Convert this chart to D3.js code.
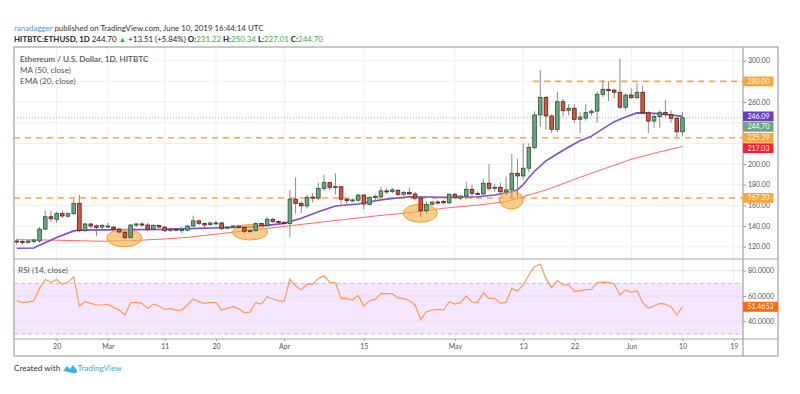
<!DOCTYPE html>
<html>
<head>
<meta charset="utf-8">
<script src="https://cdnjs.cloudflare.com/ajax/libs/d3/7.8.5/d3.min.js"></script>
<style>
  html, body { margin: 0; padding: 0; background: #fff; }
  svg { display: block; font-family: Lato, "Open Sans", sans-serif; }
</style>
</head>
<body>
<svg id="chart" width="800" height="394"></svg>
<script>
"use strict";

// daily candles, HITBTC ETH/USD, one per day from Feb 13 2019 to Jun 10 2019
var firstDay = new Date(Date.UTC(2019, 1, 13));

var open = [
    125.5, 125, 124, 125, 125.5, 137, 149, 146.5, 152, 149.5, 152, 162, 135.5, 142, 140.2, 139,
    139.5, 139, 137, 134, 129, 141, 142, 141, 137, 140.5, 139, 135.8, 137, 136, 136, 140, 145, 142.5, 141.5, 142.5, 143, 138, 139, 140, 138.5, 135, 135.5, 142.5, 140.5, 146.5, 144.5,
    143.5, 142.5, 166, 162, 159.5, 168, 167, 176.5, 182, 177.5, 178, 166, 164.7, 165, 170, 161, 168, 168.5, 174, 173.5, 174.5, 170.7, 172.6, 171, 167, 154.8, 161, 163.2, 163.8, 162.5,
    170.7, 167, 169, 175.5, 171.6, 171, 181.4, 176.5, 177.5, 173, 175, 191, 188.5, 196, 216, 247.5, 264.5, 246.5, 233.6, 260.3, 252, 254, 243.3, 244.5, 249.7, 251.2, 267.5, 272.3, 271.5, 269.5, 255,
    266.8, 264.2, 269.4, 249.7, 241.6, 245.8, 250, 248, 244.3, 231.22
];
var high = [
    128, 126.5, 127, 127.5, 139, 155, 155, 154, 155, 153, 166, 170, 143, 143, 141.5, 142,
    143, 140, 138, 135, 142, 143, 144, 143, 142, 141.5, 140, 138.5, 138, 139, 141, 150, 146, 143, 144, 145, 144, 140, 141, 141, 139, 137, 143.5, 143, 149, 148, 145.5,
    145, 175, 187, 164, 170, 172, 182, 189.5, 183, 191, 179, 167, 166.5, 171, 171, 168.5, 171, 178, 176.5, 177, 176, 174, 177, 173, 168, 164, 164, 165, 165, 171.5,
    172, 170, 183, 180, 173.5, 186, 200, 181, 182, 188, 210, 205, 220, 220, 251, 291, 266, 248, 270, 263, 258, 258, 250, 258, 253, 270, 281, 280, 273, 302, 268,
    273, 278, 276, 251, 249, 252, 262, 252, 246, 250.34
];
var low = [
    122, 122, 123, 123.5, 124, 136, 144, 143, 148, 148, 151, 134, 134, 138, 130, 137,
    138, 136, 133, 127, 128, 139, 139, 135, 136, 137.5, 134.5, 134, 135, 133, 135, 139.5, 141, 139, 140, 141, 136, 137, 138, 137.5, 133, 134, 135, 139.5, 139, 143, 142.5,
    141.5, 129, 152, 152.5, 157, 163, 165, 174, 175, 170.5, 161, 161, 163, 163, 156, 160, 165, 167, 171, 172, 169, 169, 170, 165, 148.5, 152, 160, 161, 161, 161,
    166, 165, 167, 166, 170, 170, 174, 173, 171, 170, 168, 168, 185, 192, 214, 236, 233, 230, 231, 246, 247, 240, 230, 242, 247, 240, 265, 261, 264, 253, 252,
    263, 263, 248, 230, 235, 235, 245, 240, 226, 227.01
];
var close = [
    124.8, 124, 125.5, 126.5, 137, 149, 147, 152, 149.7, 152, 162, 135.5, 142, 140, 138.7, 140.5,
    140, 137, 134.2, 129, 141, 142, 141, 137, 140.5, 139, 135.5, 137, 136, 136.5, 140, 145, 142.6, 141, 143, 143, 137.8, 139, 140, 138.5, 135, 135.5, 142.5, 140.5, 146.5, 144.5, 143.5,
    142.5, 166, 162, 159.5, 167.8, 167, 176.5, 182, 177.5, 178.2, 166, 164.7, 165.3, 170, 161.3, 167.8, 168.5, 174, 173.5, 175, 170.7, 172.6, 171, 167, 154.8, 161, 163.2, 163, 162.5, 170.7,
    167.8, 169, 175.5, 171.6, 171, 181.4, 176.5, 177.5, 173.2, 175, 191, 188.5, 196, 216, 247.5, 264.5, 246.5, 233.6, 260.3, 251.6, 254, 243.3, 245.5, 249.7, 251.2, 267.5, 272.3, 271, 269.5, 255, 266.8,
    264.2, 269.4, 249.7, 241.6, 246, 250, 248, 244.3, 231.22, 244.70
];

// indicator lines at these dates
var emaDates = ["2019-02-13", "2019-02-16", "2019-02-17", "2019-02-20", "2019-02-23", "2019-02-24", "2019-03-01", "2019-03-05",
    "2019-03-11", "2019-03-15", "2019-03-21", "2019-03-27", "2019-04-01", "2019-04-04", "2019-04-07", "2019-04-10", "2019-04-14",
    "2019-04-17", "2019-04-19", "2019-04-23", "2019-04-29", "2019-05-05", "2019-05-08", "2019-05-11", "2019-05-12", "2019-05-13",
    "2019-05-14", "2019-05-15", "2019-05-17", "2019-05-19", "2019-05-21", "2019-05-23", "2019-05-25", "2019-05-27", "2019-05-29",
    "2019-05-31", "2019-06-02", "2019-06-05", "2019-06-08", "2019-06-10"];
var emaValues = [118.5, 118.8, 121.5, 129, 135.3, 136, 136.3, 136.5,
    136.8, 137.5, 138.4, 139.4, 142.6, 147.5, 153.9, 159.4, 161.3,
    164.5, 166, 168.4, 167.8, 168.4, 170, 173.2, 175, 180,
    187, 193, 203, 210, 216.5, 222.5, 227, 234, 241,
    245.5, 249.5, 249, 247.5, 246.09];

var maDates = ["2019-02-13", "2019-02-20", "2019-02-28", "2019-03-05", "2019-03-11", "2019-03-15", "2019-04-02", "2019-04-17",
    "2019-04-23", "2019-04-29", "2019-05-05", "2019-05-10", "2019-05-13", "2019-05-17", "2019-05-23", "2019-06-01", "2019-06-05", "2019-06-10"];
var maValues = [126.8, 126.3, 125.3, 125.8, 127.5, 129, 140.3, 149.7,
    152.9, 157.2, 160.3, 163.6, 168.5, 174.9, 187.2, 204.6, 210.4, 217.03];

// RSI (14), one per candle
var rsi = [
    56.3, 54.7, 55.2, 56.3, 66, 73.1, 70.8, 73.1, 69.2, 70.8, 75.3, 52.1, 55.5, 54.2, 52.9, 52.9,
    53.4, 51, 48.9, 45, 54.7, 55, 54.2, 50.2, 53.6, 52.1, 49.4, 50, 48.6, 48.9, 52.9, 57.6, 55.5, 54.2, 54.7, 55, 48.9, 50.2, 51.5, 50, 46.8, 47.3, 54.7, 53.6, 59.4, 57.6, 56.3,
    55.8, 73.4, 67.9, 64.7, 69.5, 69.2, 73.9, 76, 71, 70.5, 58.1, 58.1, 56.8, 60.5, 52.1, 56.3, 57.3, 62.1, 61.8, 61.8, 58.5, 58.1, 56.3, 52.9, 41.5, 47.6, 48.9, 49.4, 48.9, 55.5,
    53.6, 54.7, 60, 55.2, 55, 62.6, 58.1, 58.1, 54.2, 55.2, 66, 63.9, 68.7, 76.6, 83.2, 85.3, 73.9, 66.6, 72.1, 68.7, 68.9, 63.4, 64.2, 65, 65.2, 70.5, 71, 70.8, 69.5, 60.8, 64.7,
    62.9, 64.2, 54.7, 50.2, 52.1, 54.2, 53.6, 51.5, 45, 51.4653
];

var priceTicks = [120, 140, 160, 180, 200, 220, 240, 260, 280, 300];
var rsiTicks = [40, 60, 80];
var timeTicks = ["2019-02-20", "2019-03-01", "2019-03-11", "2019-03-20", "2019-04-01", "2019-04-15",
    "2019-05-01", "2019-05-13", "2019-05-22", "2019-06-01", "2019-06-10", "2019-06-19"];
var timeLabels = ["20", "Mar", "11", "20", "Apr", "15", "May", "13", "22", "Jun", "10", "19"];

// support / resistance lines drawn by the author
var levelValues = [280, 225.39, 167.20];
var levelStarts = ["2019-05-14T18:00", null, null];

// highlighted bounces: centre date, centre price, half width in days, half height in price
var markCentres = ["2019-03-03T22:00", "2019-03-26T00:00", "2019-04-24T22:00", "2019-05-10T22:00"];
var markPrices = [128.4, 134, 152.4, 165.2];
var markDays = [3.1, 3.1, 3.0, 2.1];
var markHeights = [8.5, 7.5, 8.7, 8.7];

var lastClose = 244.70, lastEma = 246.09, lastMa = 217.03, lastRsi = 51.4653;

var parseDay = function (s) { return new Date(s + (s.length > 10 ? ":00Z" : "T00:00:00Z")); };

var svg = d3.select("#chart");

var frameLeft = 14, frameRight = 778, frameTop = 47, frameBottom = 356;
var axisX = 743;
var paneSplit = 259, rsiBottom = 339;

var x = d3.scaleUtc()
    .domain([firstDay, parseDay("2019-06-19")])
    .range([16.8, 733.7]);
var y = d3.scaleLinear().domain([120, 300]).range([246.7, 60.7]);
var yr = d3.scaleLinear().domain([40, 80]).range([321.3, 270.7]);

var days = close.map(function (c, i) { return d3.utcDay.offset(firstDay, i); });

var defs = svg.append("defs");
defs.append("clipPath").attr("id", "clipMain")
    .append("rect").attr("x", frameLeft).attr("y", frameTop)
    .attr("width", axisX - frameLeft).attr("height", paneSplit - frameTop);
defs.append("clipPath").attr("id", "clipRsi")
    .append("rect").attr("x", frameLeft).attr("y", paneSplit)
    .attr("width", axisX - frameLeft).attr("height", rsiBottom - paneSplit);

// grid
var grid = svg.append("g").attr("stroke", "#efefef").attr("stroke-width", 1);
grid.selectAll(".vg").data(timeTicks).enter().append("line")
    .attr("x1", function (d) { return x(parseDay(d)); })
    .attr("x2", function (d) { return x(parseDay(d)); })
    .attr("y1", frameTop).attr("y2", rsiBottom);
grid.selectAll(".hg").data(priceTicks).enter().append("line")
    .attr("x1", frameLeft).attr("x2", axisX)
    .attr("y1", function (d) { return y(d); }).attr("y2", function (d) { return y(d); });

// RSI band
var rsiG = svg.append("g").attr("clip-path", "url(#clipRsi)");
rsiG.append("rect")
    .attr("x", frameLeft).attr("width", axisX - frameLeft)
    .attr("y", yr(70)).attr("height", yr(30) - yr(70))
    .attr("fill", "#f3e6fd");
rsiG.selectAll(".rg").data(rsiTicks).enter().append("line")
    .attr("x1", frameLeft).attr("x2", axisX)
    .attr("y1", function (d) { return yr(d); }).attr("y2", function (d) { return yr(d); })
    .attr("stroke", "#e6dcef");
rsiG.selectAll(".band").data([70, 30]).enter().append("line")
    .attr("x1", frameLeft).attr("x2", axisX)
    .attr("y1", function (d) { return yr(d); }).attr("y2", function (d) { return yr(d); })
    .attr("stroke", "#c8bcd4").attr("stroke-dasharray", "4,3");
rsiG.append("path")
    .datum(rsi)
    .attr("fill", "none").attr("stroke", "#ff9a5c").attr("stroke-width", 1.2)
    .attr("d", d3.line()
        .x(function (d, i) { return x(days[i]); })
        .y(function (d) { return yr(d); }));

// main pane
var main = svg.append("g").attr("clip-path", "url(#clipMain)");

main.append("line")
    .attr("x1", frameLeft).attr("x2", axisX)
    .attr("y1", y(lastClose)).attr("y2", y(lastClose))
    .attr("stroke", "#8cc7a2").attr("stroke-dasharray", "1,2");

main.selectAll(".level").data(levelValues).enter().append("line")
    .attr("x1", function (d, i) { return levelStarts[i] ? x(parseDay(levelStarts[i])) : frameLeft; })
    .attr("x2", axisX)
    .attr("y1", function (d) { return y(d); }).attr("y2", function (d) { return y(d); })
    .attr("stroke", "#ffa83e").attr("stroke-width", 1.6).attr("stroke-dasharray", "6,5");

var lineGen = function (dates) {
    return d3.line()
        .x(function (d, i) { return x(parseDay(dates[i])); })
        .y(function (d) { return y(d); });
};
main.append("path").datum(maValues)
    .attr("fill", "none").attr("stroke", "#ff6b6b").attr("stroke-width", 1)
    .attr("d", lineGen(maDates));
main.append("path").datum(emaValues)
    .attr("fill", "none").attr("stroke", "#7c4fd0").attr("stroke-width", 1.6)
    .attr("d", lineGen(emaDates));

main.selectAll(".mark").data(markCentres).enter().append("ellipse")
    .attr("cx", function (d) { return x(parseDay(d)); })
    .attr("cy", function (d, i) { return y(markPrices[i]); })
    .attr("rx", function (d, i) { return x(d3.utcHour.offset(parseDay(d), markDays[i] * 24)) - x(parseDay(d)); })
    .attr("ry", function (d, i) { return y(markPrices[i] - markHeights[i]) - y(markPrices[i]); })
    .attr("fill", "#f6b24a").attr("fill-opacity", 0.65)
    .attr("stroke", "#f0a030").attr("stroke-width", 1);

var candle = main.selectAll(".candle").data(close).enter().append("g")
    .attr("transform", function (d, i) { return "translate(" + x(days[i]) + ",0)"; });
candle.append("line")
    .attr("y1", function (d, i) { return y(high[i]); })
    .attr("y2", function (d, i) { return y(low[i]); })
    .attr("stroke", "#8a8a8c").attr("stroke-width", 1);
candle.append("rect")
    .attr("x", -1.8).attr("width", 3.6)
    .attr("y", function (d, i) { return y(Math.max(open[i], d)); })
    .attr("height", function (d, i) { return Math.max(1, Math.abs(y(open[i]) - y(d))); })
    .attr("fill", function (d, i) { return d >= open[i] ? "#6ba583" : "#d75442"; })
    .attr("stroke", function (d, i) { return d >= open[i] ? "#225437" : "#5b1a13"; })
    .attr("stroke-width", 0.8);

// price tags on the right scale, pushed apart where they would overlap
var tags = [
    { v: 280, text: "280.00", bg: "#ffa43a" },
    { v: lastEma, text: "246.09", bg: "#6a3fbf" },
    { v: lastClose, text: "244.70", bg: "#6ba583" },
    { v: 225.39, text: "225.39", bg: "#ffa43a" },
    { v: lastMa, text: "217.03", bg: "#ff1e2d" },
    { v: 167.20, text: "167.20", bg: "#ffa43a" }
];
var prevY = -Infinity;
tags.forEach(function (t) {
    t.y = Math.max(y(t.v), prevY + 10.4);
    prevY = t.y;
});

// axes; scale labels hidden under a tag are left out
var hiddenUnderTag = function (v) {
    return tags.some(function (t) { return Math.abs(t.y - y(v)) < 7; });
};
var priceAxis = svg.append("g")
    .attr("transform", "translate(" + axisX + ",0)")
    .call(d3.axisRight(y).tickValues(priceTicks).tickSize(3).tickPadding(2).tickFormat(d3.format(".2f")));
priceAxis.selectAll(".tick text").filter(function (d) { return hiddenUnderTag(d); }).remove();
var rsiAxis = svg.append("g")
    .attr("transform", "translate(" + axisX + ",0)")
    .call(d3.axisRight(yr).tickValues(rsiTicks).tickSize(3).tickPadding(2).tickFormat(d3.format(".4f")));
var timeAxis = svg.append("g")
    .attr("transform", "translate(0," + rsiBottom + ")")
    .call(d3.axisBottom(x).tickValues(timeTicks.map(parseDay)).tickSize(2).tickPadding(3)
        .tickFormat(function (d, i) { return timeLabels[i]; }));
[priceAxis, rsiAxis, timeAxis].forEach(function (a) {
    a.select(".domain").remove();
    a.selectAll("line").attr("stroke", "#9a9a9a");
    a.selectAll("text").attr("fill", "#555").attr("font-size", 7).attr("font-family", "Lato, sans-serif");
});

// frame and pane dividers
var frame = svg.append("g").attr("fill", "none").attr("stroke", "#a3a3a3").attr("stroke-width", 1.2);
frame.append("rect").attr("x", frameLeft).attr("y", frameTop)
    .attr("width", frameRight - frameLeft).attr("height", frameBottom - frameTop);
frame.append("line").attr("x1", axisX).attr("x2", axisX).attr("y1", frameTop).attr("y2", frameBottom);
frame.append("line").attr("x1", frameLeft).attr("x2", frameRight).attr("y1", paneSplit).attr("y2", paneSplit);
frame.append("line").attr("x1", frameLeft).attr("x2", frameRight).attr("y1", rsiBottom).attr("y2", rsiBottom);

var tagG = svg.append("g").selectAll("g").data(tags).enter().append("g")
    .attr("transform", function (d) { return "translate(" + axisX + "," + d.y + ")"; });
tagG.append("rect").attr("x", 0).attr("y", -4.9).attr("width", 30.5).attr("height", 9.8)
    .attr("fill", function (d) { return d.bg; });
tagG.append("text").attr("x", 4.5).attr("y", 2.5).attr("fill", "#fff").attr("font-size", 7)
    .text(function (d) { return d.text; });

var rsiTag = svg.append("g").attr("transform", "translate(" + axisX + "," + yr(lastRsi) + ")");
rsiTag.append("rect").attr("x", 0).attr("y", -5).attr("width", 35).attr("height", 10).attr("fill", "#ff6a10");
rsiTag.append("text").attr("x", 4.5).attr("y", 2.5).attr("fill", "#fff").attr("font-size", 7)
    .text(d3.format(".4f")(lastRsi));

// legends
var legend = svg.append("g").attr("fill", "#555").attr("font-size", 8.2);
legend.append("text").attr("x", 20).attr("y", 62).attr("font-weight", 600).text("Ethereum / U.S. Dollar, 1D, HITBTC");
legend.append("text").attr("x", 20).attr("y", 73).text("MA (50, close)");
legend.append("text").attr("x", 20).attr("y", 83.5).text("EMA (20, close)");
svg.append("text").attr("x", 18).attr("y", 273).attr("fill", "#555").attr("font-size", 8.2).text("RSI (14, close)");

// header
var h1 = svg.append("text").attr("x", 14).attr("y", 31).attr("font-size", 7.9).attr("fill", "#333");
h1.append("tspan").attr("fill", "#3fa2e3").text("ranadagger");
h1.append("tspan").text(" published on TradingView.com, June 10, 2019 16:44:14 UTC");

var h2 = svg.append("text").attr("x", 14).attr("y", 42).attr("font-size", 7.9).attr("fill", "#222").attr("font-weight", 700);
var green = "#3eab4a";
h2.append("tspan").text("HITBTC:ETHUSD, 1D  ");
h2.append("tspan").attr("font-weight", 400).text("244.70 ");
h2.append("tspan").attr("fill", green).text("\u25B2");
h2.append("tspan").attr("font-weight", 400).text(" +13.51 (+5.84%) ");
[["O:", "231.22"], ["H:", "250.34"], ["L:", "227.01"], ["C:", "244.70"]].forEach(function (p) {
    h2.append("tspan").text(p[0]);
    h2.append("tspan").attr("fill", green).attr("font-weight", 400).text(p[1] + " ");
});

// footer
svg.append("text").attr("x", 14).attr("y", 371).attr("font-size", 8.2).attr("fill", "#333").text("Created with");
svg.append("path")
    .attr("d", "M63,371 l4,-5 l3,3 l3,-4 l3,4 a2.5,2.5 0 0 1 -1,4.5 z")
    .attr("fill", "#3db4e6");
svg.append("text").attr("x", 77.5).attr("y", 371).attr("font-size", 8.2).attr("fill", "#3fa8e0").text("TradingView");
</script>
</body>
</html>
